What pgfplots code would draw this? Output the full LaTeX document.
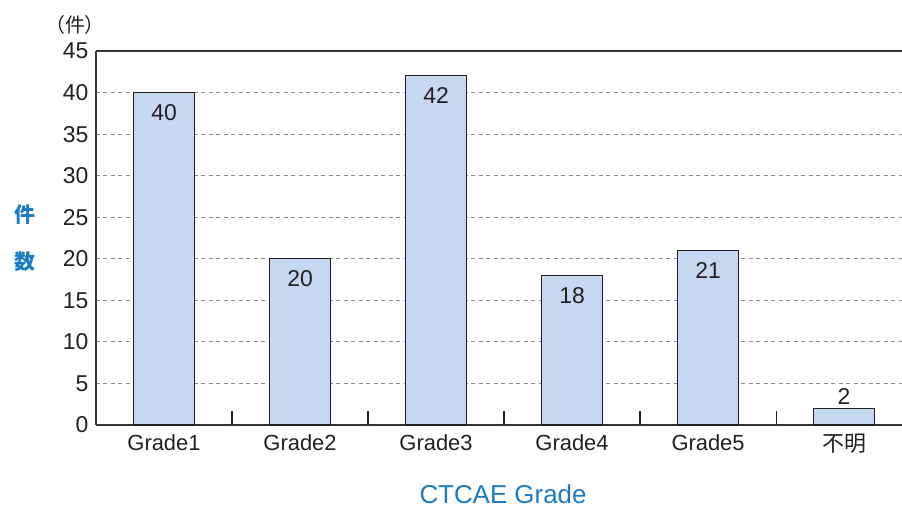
\documentclass[border=0pt]{standalone}
\usepackage{fontspec}
\setmainfont{Liberation Sans}
\newfontfamily\cjk{Noto Sans CJK JP}
\usepackage{pgfplots}
\pgfplotsset{compat=1.18}
\definecolor{barfill}{HTML}{C5D8EF}
\definecolor{txt}{HTML}{231F20}
\definecolor{lblue}{HTML}{1B7BC3}
\begin{document}
\begin{tikzpicture}
\path[use as bounding box] (-96bp,-82bp) rectangle (806bp,425bp);
\begin{axis}[at={(0,0)}, anchor=south west, scale only axis,
  width=806bp, height=374bp,
  xmin=-0.5, xmax=5.426, ymin=0, ymax=45,
  axis lines=left, axis line style={-, line width=1.3bp, draw=txt!90},
  /pgf/number format/assume math mode=true,
  ytick={0,5,...,45}, xtick={0,1,2,3,4,5},
  xticklabels={Grade1,Grade2,Grade3,Grade4,Grade5,{\cjk 不明}},
  major tick length=0pt,
  tick label style={text=txt},
  yticklabel style={font=\fontsize{23}{26}\selectfont, xshift=-4bp},
  xticklabel style={font=\fontsize{22}{26}\selectfont, yshift=-6bp},
  extra x ticks={0.5,1.5,2.5,3.5,4.5},
  extra x tick labels={},
  extra x tick style={major tick length=14bp, tick align=inside, grid=none,
     tick style={line width=1.1bp, draw=txt}},
  ymajorgrids, grid style={draw=gray!90, line width=0.9bp, dash pattern=on 4bp off 3.5bp},
  ybar, bar width=61bp,
  nodes near coords,
  nodes near coords style={font=\fontsize{23}{26}\selectfont, text=txt},
  clip=false,
]
\addplot[fill=barfill, draw=txt, line width=1.1bp, bar shift=0pt,
  every node near coord/.append style={anchor=north, yshift=-8bp}]
  coordinates {(0,40) (1,20) (2,42) (3,18) (4,21)};
\addplot[fill=barfill, draw=txt, line width=1.1bp, bar shift=0pt]
  coordinates {(5,2)};
\draw[line width=1.3bp, draw=txt!90] (rel axis cs:0,1) -- (rel axis cs:1,1);
\node[text=lblue, font=\cjk\bfseries\fontsize{21}{47}\selectfont, align=center]
  at (rel axis cs:0,0.5) [xshift=-71bp] {件\\数};
\node[text=txt, font=\cjk\fontsize{20}{23}\selectfont]
  at (rel axis cs:0,1) [xshift=-21bp, yshift=26bp] {（件）};
\node[text=lblue, font=\fontsize{26}{30}\selectfont, inner sep=0pt]
  at (rel axis cs:0,0) [xshift=407bp, yshift=-69bp] {CTCAE Grade};
\end{axis}
\end{tikzpicture}
\end{document}
